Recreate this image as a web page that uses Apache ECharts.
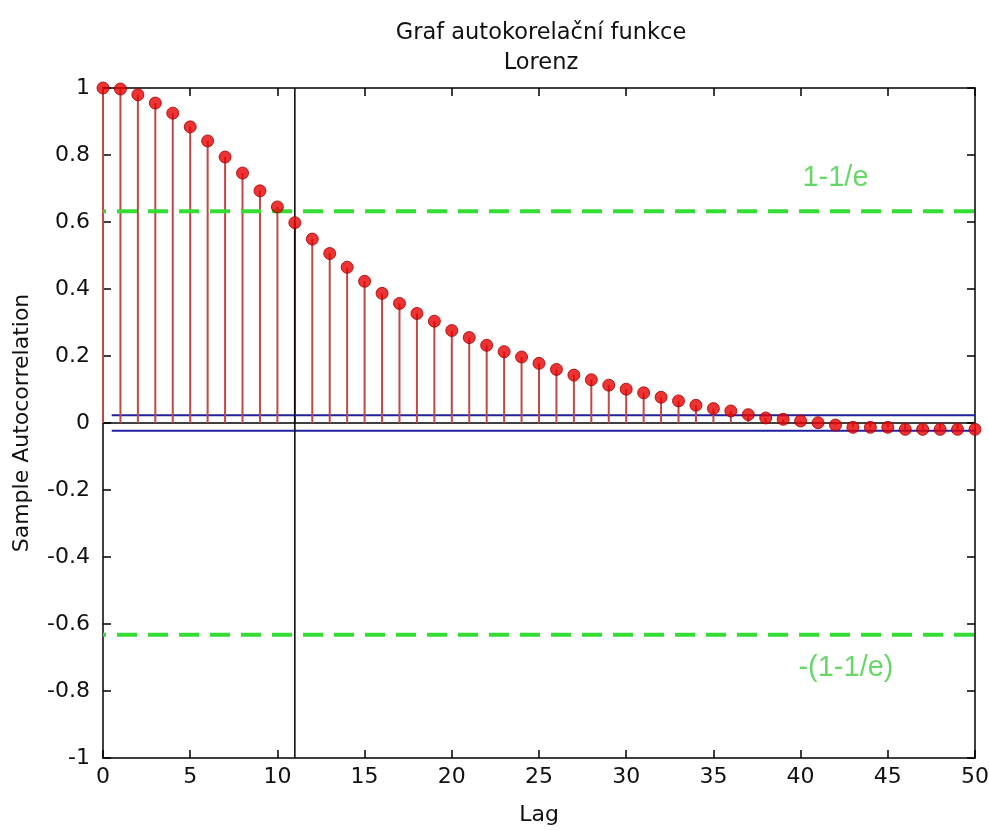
<!DOCTYPE html>
<html>
<head>
<meta charset="utf-8">
<script src="https://cdn.jsdelivr.net/npm/echarts@6/dist/echarts.min.js"></script>
<style>
  html, body { margin: 0; padding: 0; background: #fff; }
  #chart { width: 989px; height: 831px; }
</style>
</head>
<body>
<div id="chart"></div>
<script>
// Sample autocorrelation of the Lorenz series, lags 0..50
const lags = Array.from({ length: 51 }, (_, i) => i);
const acf = [
  1.000, 0.997, 0.980, 0.955, 0.925, 0.884, 0.842, 0.794, 0.746, 0.693,
  0.645, 0.598, 0.549, 0.506, 0.465, 0.423, 0.387, 0.357, 0.327, 0.304,
  0.276, 0.255, 0.232, 0.213, 0.197, 0.178, 0.160, 0.143, 0.129, 0.113,
  0.101, 0.090, 0.077, 0.066, 0.053, 0.043, 0.036, 0.025, 0.015, 0.011,
  0.006, 0.001, -0.006, -0.013, -0.013, -0.013, -0.019, -0.019, -0.019, -0.019,
  -0.019
];
// approximate 95% confidence bounds
const bounds = [0.0235, -0.0235];
// 1 - 1/e threshold and the lag where the ACF first drops below it
const threshold = [1 - 1 / Math.E, -(1 - 1 / Math.E)];
const thresholdLabels = ['1-1/e', '-(1-1/e)'];
const crossingLag = [11];
const yTicks = [-1, -0.8, -0.6, -0.4, -0.2, 0, 0.2, 0.4, 0.6, 0.8, 1];
const xTicks = [0, 5, 10, 15, 20, 25, 30, 35, 40, 45, 50];

const FONT = "'DejaVu Sans', 'Liberation Sans', Arial, sans-serif";
const chart = echarts.init(document.getElementById('chart'), null, { renderer: 'canvas' });

function fmt(v) {
  if (v === 0) return '0';
  return String(Math.round(v * 10) / 10);
}

const axisCommon = {
  axisLine: { show: true, onZero: false, lineStyle: { color: '#000', width: 1.5 } },
  axisTick: { show: true, inside: true, length: 8, lineStyle: { color: '#000', width: 1.5 } },
  splitLine: { show: false }
};

const option = {
  backgroundColor: '#fff',
  animation: false,
  title: {
    text: 'Graf autokorelační funkce\nLorenz',
    left: 536, top: 13, textAlign: 'center',
    textStyle: { fontFamily: FONT, fontSize: 22.5, fontWeight: 'normal', color: '#111', lineHeight: 30 }
  },
  grid: {
    left: 103, right: 14, top: 88, bottom: 73,
    containLabel: false, outerBoundsMode: 'none', show: false
  },
  xAxis: [
    Object.assign({}, axisCommon, {
      type: 'value', min: 0, max: 50, interval: 5, position: 'bottom',
      name: 'Lag', nameLocation: 'middle', nameGap: 46,
      nameTextStyle: { fontFamily: FONT, fontSize: 22, color: '#111' },
      axisLabel: { fontFamily: FONT, fontSize: 22, color: '#111', margin: 8, formatter: v => String(v) }
    }),
    Object.assign({}, axisCommon, {
      type: 'value', min: 0, max: 50, interval: 5, position: 'top',
      axisLabel: { show: false }
    })
  ],
  yAxis: [
    Object.assign({}, axisCommon, {
      type: 'value', min: -1, max: 1, interval: 0.2, position: 'left',
      name: 'Sample Autocorrelation', nameLocation: 'middle', nameGap: 70, nameRotate: 90,
      nameTextStyle: { fontFamily: FONT, fontSize: 22, color: '#111' },
      axisLabel: { fontFamily: FONT, fontSize: 22, color: '#111', margin: 13, formatter: fmt }
    }),
    Object.assign({}, axisCommon, {
      type: 'value', min: -1, max: 1, interval: 0.2, position: 'right',
      axisLabel: { show: false }
    })
  ],
  series: [
    // baseline at zero
    {
      type: 'line', silent: true, symbol: 'none', z: 2,
      data: [[0, 0], [50, 0]],
      lineStyle: { color: '#000', width: 1.5 }
    },
    // confidence bounds
    ...bounds.map(b => ({
      type: 'line', silent: true, symbol: 'none', z: 2,
      data: [[0.5, b], [50, b]],
      lineStyle: { color: '#2020a0', width: 2 }
    })),
    // stems
    {
      type: 'custom', z: 3,
      data: lags.map((l, i) => [l, acf[i]]),
      renderItem: function (params, api) {
        const p0 = api.coord([api.value(0), 0]);
        const p1 = api.coord([api.value(0), api.value(1)]);
        return {
          type: 'line',
          shape: { x1: p0[0], y1: p0[1], x2: p1[0], y2: p1[1] },
          style: { stroke: '#c04848', lineWidth: 2 }
        };
      }
    },
    // threshold lines
    ...threshold.map(t => ({
      type: 'line', silent: true, symbol: 'none', z: 4,
      data: [[0, t], [50, t]],
      lineStyle: { color: '#33dd33', width: 4, type: [20, 11], dashOffset: -14 }
    })),
    // vertical marker at the crossing lag
    {
      type: 'line', silent: true, symbol: 'none', z: 5,
      data: [[crossingLag[0], -1], [crossingLag[0], 1]],
      lineStyle: { color: '#000', width: 1.5 }
    },
    // markers
    {
      type: 'scatter', z: 6,
      data: lags.map((l, i) => [l, acf[i]]),
      symbol: 'circle', symbolSize: 12,
      itemStyle: { color: '#e80000', borderColor: '#a00000', borderWidth: 1 }
    },
    // threshold annotations
    {
      type: 'scatter', z: 7, symbolSize: 0, silent: true,
      data: [[42.0, 0.731], [42.6, -0.731]],
      label: {
        show: true, position: 'inside',
        fontFamily: "'Liberation Sans', Arial, sans-serif", fontSize: 29, color: '#44cc44',
        formatter: p => thresholdLabels[p.dataIndex]
      }
    }
  ]
};

chart.setOption(option);
</script>
</body>
</html>
